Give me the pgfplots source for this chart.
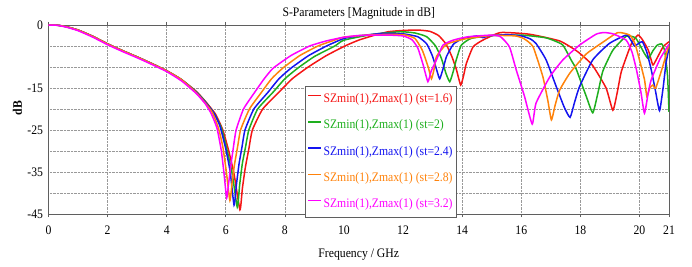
\documentclass[border=0pt]{standalone}
\usepackage{pgfplots}
\pgfplotsset{compat=1.18}
\usepackage{fontspec}
\setmainfont{Liberation Serif}[FakeStretch=0.9]
\definecolor{cred}{RGB}{245,20,20}
\definecolor{cgreen}{RGB}{30,175,30}
\definecolor{cblue}{RGB}{20,20,240}
\definecolor{corange}{RGB}{255,130,10}
\definecolor{cmag}{RGB}{255,0,255}
\definecolor{frame}{RGB}{95,95,95}
\begin{document}
\begin{tikzpicture}
\useasboundingbox (-48.5pt,-53pt) rectangle (643.5pt,214pt);
\begin{axis}[
  at={(0pt,0pt)}, anchor=south west,
  scale only axis, width=620.5pt, height=189pt,
  xmin=0, xmax=21, ymin=-45, ymax=0,
  xtick={0,2,4,6,8,10,12,14,16,18,20,21},
  xticklabels={0,2,4,6,8,10,12,14,16,18,20,21},
  ytick={-45,-40,-35,-30,-25,-20,-15,-10,-5,0},
  yticklabels={-45,{},-35,{},-25,{},-15,{},{},0},
  font=\fontsize{13pt}{15pt}\selectfont,
  tick label style={font=\fontsize{13pt}{15pt}\selectfont},
  xticklabel style={yshift=-5pt},
  yticklabel style={xshift=1pt},
  grid=major,
  major grid style={densely dotted, gray!80, line width=0.6pt},
  axis line style={frame, line width=0.8pt},
  tick style={frame, line width=0.6pt},
  tick align=outside,
  major tick length=3pt,
  ytick style={draw=none},
  title={S-Parameters [Magnitude in dB]},
  title style={at={(axis description cs:0.5,1)}, anchor=base, yshift=2pt, inner sep=0pt},
  xlabel={Frequency / GHz},
  xlabel style={at={(axis description cs:0.5,0)}, anchor=base, yshift=-43pt, inner sep=0pt},
  ylabel={\textbf{dB}},
  ylabel style={at={(axis description cs:-0.05,0.56)}, anchor=center, inner sep=0pt},
  legend cell align=left,
  legend style={at={(axis description cs:0.4134,0.677)}, anchor=north west,
    draw=frame, line width=1pt, fill=white,
    row sep=12.3pt, inner xsep=2pt, inner ysep=6pt,
    nodes={inner xsep=1.5pt, inner ysep=1pt, text height=9pt, text depth=3pt},
    font=\fontsize{13pt}{15pt}\selectfont},
  legend image code/.code={\draw[#1, line width=1.5pt] (0pt,4pt) -- (13pt,4pt);},
  every axis plot/.append style={line width=1.5pt, smooth, tension=0.3},
]
\addplot[cred] coordinates {
(0,0) (0.3,-0.05) (0.6,-0.4) (1,-1.2) (1.5,-2.7) (2,-4.5) (2.5,-6.1) (3,-7.6) (3.5,-9.2) (4,-10.9) (4.5,-13) (5,-15.8)
(5.3,-18.1) (5.65,-21.2) (5.9,-25) (6.1,-30) (6.28,-35.5) (6.48,-44) (6.56,-39) (6.66,-34) (6.78,-29.5) (6.9,-25)
(7.25,-20) (7.8,-16) (8.25,-12.8) (8.79,-10) (9.4,-7.3) (10.03,-5) (10.5,-3.6) (11,-2.5) (11.5,-1.6) (12,-1.3)
(12.5,-1.2) (12.9,-1.5) (13.2,-2.5) (13.45,-4.5) (13.65,-7.5) (13.8,-10.5) (13.95,-14.3) (14.05,-12) (14.14,-9.2)
(14.37,-5.2) (14.7,-3.6) (15.3,-1.8) (16.28,-2.2) (17.3,-3.8) (17.9,-6.3) (18.4,-9.5) (18.87,-15) (19.1,-20.3)
(19.25,-16) (19.39,-11) (19.73,-4.4) (19.95,-2.4) (20.1,-3.5) (20.3,-6) (20.45,-9.5) (20.55,-8.5) (20.8,-5.2) (21,-4)
};
\addlegendentry{\textcolor{cred}{SZmin(1),Zmax(1) (st=1.6)}}
\addplot[cgreen] coordinates {
(0,0) (0.3,-0.05) (0.6,-0.4) (1,-1.2) (1.5,-2.7) (2,-4.5) (2.5,-6.1) (3,-7.6) (3.5,-9.2) (4,-10.9) (4.5,-13) (5,-15.9)
(5.3,-18.2) (5.6,-21) (5.85,-24.5) (6.05,-30) (6.22,-35.5) (6.39,-43.4) (6.47,-38) (6.56,-33) (6.67,-29) (6.78,-25)
(7.08,-20) (7.6,-16) (8.0,-12.8) (8.45,-10.2) (9.0,-7.5) (9.69,-5) (10,-3.6) (11,-2.2) (11.9,-1.6) (12.4,-1.9)
(12.8,-2.8) (13.1,-5) (13.3,-8) (13.45,-11.5) (13.58,-13.5) (13.7,-11) (13.8,-8.3) (13.97,-4.8) (14.3,-3.2) (15,-2.5)
(16,-2.4) (16.8,-3.0) (17.1,-3.7) (17.41,-4.8) (17.7,-8.5) (17.86,-10.5) (18.2,-17) (18.42,-20.9) (18.6,-16)
(18.76,-11) (19.1,-6) (19.55,-2.7) (19.87,-3.1) (20.17,-6.8) (20.3,-8) (20.45,-6.2) (20.6,-4.8) (20.75,-4.5)
(20.85,-6) (20.95,-12) (21,-20.7)
};
\addlegendentry{\textcolor{cgreen}{SZmin(1),Zmax(1) (st=2)}}
\addplot[cblue] coordinates {
(0,0) (0.3,-0.05) (0.6,-0.4) (1,-1.2) (1.5,-2.7) (2,-4.5) (2.5,-6.1) (3,-7.6) (3.5,-9.2) (4,-10.9) (4.5,-13) (5,-16)
(5.3,-18.3) (5.6,-21) (5.8,-24) (6.0,-29.5) (6.15,-35) (6.28,-42.9) (6.36,-38) (6.45,-33) (6.55,-29) (6.65,-25)
(6.95,-20) (7.43,-16) (7.8,-12.8) (8.22,-10.2) (8.8,-7.3) (9.41,-5) (10,-3.2) (10.5,-2.6) (11.3,-2.0) (12,-2.1)
(12.5,-2.8) (12.8,-4.5) (13.0,-7.5) (13.15,-11) (13.24,-12.8) (13.35,-10.5) (13.47,-7.5) (13.7,-4.6) (14,-3.3)
(14.5,-2.6) (14.7,-3.0) (14.9,-2.6) (15.5,-2.3) (16,-2.6) (16.3,-3.3) (16.5,-4.4) (16.84,-8.3) (17.18,-14.6)
(17.45,-19.5) (17.65,-22) (17.8,-18.5) (17.97,-14.7) (18.42,-8.3) (18.98,-4.4) (19.55,-2.4) (19.7,-3.5) (19.83,-5)
(19.95,-4.5) (20.1,-4) (20.25,-6.5) (20.4,-10.7) (20.55,-16) (20.68,-20.4) (20.8,-15) (20.9,-9) (21,-5.5)
};
\addlegendentry{\textcolor{cblue}{SZmin(1),Zmax(1) (st=2.4)}}
\addplot[corange] coordinates {
(0,0) (0.3,-0.05) (0.6,-0.4) (1,-1.2) (1.5,-2.7) (2,-4.5) (2.5,-6.1) (3,-7.6) (3.5,-9.2) (4,-10.9) (4.5,-13) (5,-16.1)
(5.3,-18.5) (5.55,-20.9) (5.75,-24.5) (5.9,-29) (6.02,-35) (6.14,-41.8) (6.22,-37) (6.3,-33) (6.4,-29) (6.5,-25)
(6.8,-20) (7.21,-16) (7.55,-12.8) (7.94,-10.2) (8.5,-7.3) (9.12,-5) (9.6,-3.8) (10,-2.9) (11,-2.3) (12,-2.3)
(12.4,-3.2) (12.65,-6) (12.85,-10) (12.96,-12.8) (13.05,-10.5) (13.13,-7.5) (13.47,-4.6) (14.1,-3.3) (15,-2.5)
(15.8,-2.6) (16.1,-3.3) (16.4,-5.2) (16.73,-12.3) (16.9,-18) (17.02,-22.6) (17.15,-19) (17.3,-15.5) (17.65,-11.4)
(18.2,-6.9) (18.76,-4.1) (19.27,-1.8) (19.67,-2.4) (19.85,-4.5) (20,-8.3) (20.17,-13) (20.25,-17) (20.35,-15)
(20.45,-14.3) (20.55,-15) (20.8,-9.6) (21,-4.6)
};
\addlegendentry{\textcolor{corange}{SZmin(1),Zmax(1) (st=2.8)}}
\addplot[cmag] coordinates {
(0,0) (0.3,-0.08) (0.6,-0.5) (1,-1.35) (1.5,-2.9) (2,-4.7) (2.5,-6.3) (3,-7.8) (3.5,-9.4) (4,-11.1) (4.5,-13.3) (5,-16.3)
(5.3,-18.7) (5.5,-21) (5.7,-24.5) (5.85,-30) (5.95,-36) (6.03,-41.2) (6.1,-37.5) (6.17,-33.5) (6.26,-29) (6.35,-25)
(6.6,-20) (6.98,-16) (7.3,-12.8) (7.6,-10.3) (8.2,-7.3) (8.84,-5) (9.4,-3.8) (10,-2.9) (10.5,-2.5) (11,-2.4)
(11.5,-2.4) (12,-2.6) (12.3,-3.5) (12.5,-5.5) (12.68,-9.5) (12.84,-13.5) (12.95,-11) (13.13,-8.3) (13.35,-4.8)
(13.7,-3.6) (14.2,-2.8) (15,-2.4) (15.3,-2.8) (15.6,-5.2) (15.83,-10.7) (16.11,-17) (16.37,-23.6) (16.5,-18.6)
(16.97,-12.3) (17.41,-8.3) (17.97,-4.8) (18.53,-2.2) (18.8,-1.8) (19.1,-2.1) (19.55,-3.6) (19.75,-6.5) (19.9,-10.7)
(20.05,-16) (20.17,-21) (20.3,-16) (20.4,-13) (20.7,-8) (21,-4.6)
};
\addlegendentry{\textcolor{cmag}{SZmin(1),Zmax(1) (st=3.2)}}
\end{axis}
\end{tikzpicture}
\end{document}
